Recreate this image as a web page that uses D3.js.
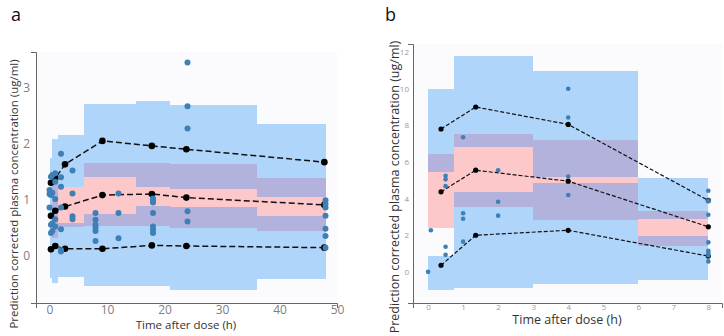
<!DOCTYPE html>
<html>
<head>
<meta charset="utf-8">
<script src="https://cdn.jsdelivr.net/npm/d3@7"></script>
<style>
body { margin: 0; background: #fff; }
text { font-family: "Open Sans", sans-serif; }
</style>
</head>
<body>
<svg width="724" height="336"></svg>
<script>
// ---- panel a data ----
var binsA = [[0, 0.5], [0.5, 1.4], [1.4, 6], [6, 15], [15, 21], [21, 36], [36, 48]];
var upperCiA = [[0.55, 1.74], [0.31, 2.08], [1.23, 2.15], [1.40, 2.71], [1.23, 2.77], [1.19, 2.69], [1.05, 2.35]];
var medianCiA = [null, [0.31, 1.35], [0.51, 1.23], [0.53, 1.65], [0.52, 1.66], [0.49, 1.63], [0.43, 1.38]];
var lowerCiA = [[-0.40, 0.55], [-0.49, 1.35], [-0.39, 0.58], [-0.55, 0.75], [-0.54, 0.88], [-0.61, 0.87], [-0.42, 0.71]];
var timeA = [0.25, 1, 2.7, 9.2, 17.8, 23.8, 47.8];
var p95A = [1.30, 1.38, 1.63, 2.05, 1.96, 1.90, 1.67];
var p50A = [0.71, 0.80, 0.875, 1.08, 1.10, 1.035, 0.905];
var p5A = [0.11, 0.17, 0.12, 0.12, 0.18, 0.17, 0.14];
var obsTimeA = [0, 0, 0, 0.25, 0.25, 0.25, 0.25, 0.25, 0.5, 0.5, 0.5, 0.5,
  1, 1, 1, 1, 1, 2, 2, 2, 2, 2, 2, 2, 4, 4, 4, 4,
  8, 8, 8, 8, 8, 8, 12, 12, 12, 18, 18, 18, 18, 18, 18, 18,
  24, 24, 24, 24, 24, 48, 48, 48, 48, 48, 48, 48];
var obsConcA = [1.17, 1.10, 0.86, 1.41, 1.10, 1.08, 0.55, 0.40, 1.44, 1.12, 0.57, 0.44,
  1.47, 1.32, 1.01, 0.65, 0.52, 1.82, 1.40, 1.23, 0.86, 0.47, 0.10, 0.07, 1.52, 1.11, 0.70, 0.65,
  0.76, 0.64, 0.55, 0.50, 0.44, 0.26, 1.11, 0.76, 0.31, 1.02, 0.98, 0.95, 0.76, 0.52, 0.46, 0.40,
  3.45, 2.67, 2.27, 0.79, 0.61, 0.99, 0.92, 0.86, 0.71, 0.48, 0.35, 0.14];
var xTicksA = [0, 10, 20, 30, 40, 50];
var yTicksA = [0, 1, 2, 3];

// ---- panel b data ----
var binsB = [[0, 0.75], [0.75, 3], [3, 6], [6, 8]];
var upperCiB = [[5.47, 9.96], [6.79, 11.77], [5.2, 10.98], [2.86, 5.1]];
var medianCiB = [[2.39, 6.42], [3.56, 7.52], [2.83, 7.18], [1.4, 3.32]];
var lowerCiB = [[-1.0, 0.84], [-0.86, 4.36], [-0.64, 4.86], [-0.46, 1.97]];
var timeB = [0.37, 1.36, 4, 8];
var p95B = [7.8, 9.0, 8.05, 3.9];
var p50B = [4.37, 5.55, 4.95, 2.46];
var p5B = [0.36, 2.0, 2.27, 0.86];
var obsTimeB = [0, 0.08, 0.5, 0.5, 0.5, 0.5, 0.5, 1, 1, 1, 1, 2, 2, 2,
  4, 4, 4, 4, 8, 8, 8, 8, 8, 8, 8, 8, 8];
var obsConcB = [0.0, 2.27, 5.25, 5.05, 4.68, 1.37, 0.93, 7.35, 3.2, 2.9, 1.65, 5.55, 3.83, 3.07,
  10.0, 8.43, 5.2, 4.2, 4.43, 3.89, 3.85, 3.12, 1.61, 1.15, 1.04, 0.89, 0.57];
var xTicksB = [0, 1, 2, 3, 4, 5, 6, 7, 8];
var yTicksB = [0, 2, 4, 6, 8, 10, 12];

var blue = "#afd5fb", pink = "#fcc8c9", purple = "#b2b2dc";
var svg = d3.select("svg");

function overlap(a, b) {
  if (!a || !b) return null;
  var lo = Math.max(a[0], b[0]), hi = Math.min(a[1], b[1]);
  return hi > lo ? [lo, hi] : null;
}

function panel(c) {
  var x = d3.scaleLinear().domain(c.xDomain).range(c.xRange),
      y = d3.scaleLinear().domain(c.yDomain).range(c.yRange);
  var g = svg.append("g");

  g.append("rect")
    .attr("x", c.xRange[0]).attr("y", c.yRange[1])
    .attr("width", c.xRange[1] - c.xRange[0]).attr("height", c.yRange[0] - c.yRange[1])
    .attr("fill", "#fbfbfe");

  function band(ranges, color) {
    g.append("g").selectAll("rect")
      .data(c.bins.map(function(b, i) { return {b: b, r: ranges[i]}; }).filter(function(d) { return d.r; }))
      .join("rect")
      .attr("x", function(d) { return x(d.b[0]); })
      .attr("width", function(d) { return x(d.b[1]) - x(d.b[0]); })
      .attr("y", function(d) { return y(d.r[1]); })
      .attr("height", function(d) { return y(d.r[0]) - y(d.r[1]); })
      .attr("fill", color)
      .attr("shape-rendering", "crispEdges");
  }
  band(c.upper, blue);
  band(c.lower, blue);
  band(c.median, pink);
  // purple where the median CI overlaps the outer CIs
  band(c.median.map(function(m, i) { return overlap(m, c.upper[i]); }), purple);
  band(c.median.map(function(m, i) { return overlap(m, c.lower[i]); }), purple);

  // simulated percentile lines
  [c.p95, c.p50, c.p5].forEach(function(vals) {
    var pts = c.time.map(function(t, i) { return [t, vals[i]]; });
    g.append("path")
      .attr("d", d3.line().x(function(d) { return x(d[0]); }).y(function(d) { return y(d[1]); })(pts))
      .attr("fill", "none").attr("stroke", "#111")
      .attr("stroke-width", c.lw).attr("stroke-dasharray", c.dash);
    g.append("g").selectAll("circle").data(pts).join("circle")
      .attr("cx", function(d) { return x(d[0]); })
      .attr("cy", function(d) { return y(d[1]); })
      .attr("r", c.rBlack).attr("fill", "#000");
  });

  // observations
  g.append("g").selectAll("circle").data(c.obsT).join("circle")
    .attr("cx", function(d) { return x(d); })
    .attr("cy", function(d, i) { return y(c.obsC[i]); })
    .attr("r", c.rObs).attr("fill", "#3e7fb6");

  var ax = g.append("g").attr("transform", "translate(0," + c.yRange[0] + ")")
    .call(d3.axisBottom(x).tickValues(c.xTicks).tickFormat(d3.format("d"))
      .tickSizeInner(0).tickSizeOuter(5).tickPadding(c.padX));
  var ay = g.append("g").attr("transform", "translate(" + c.xRange[0] + ",0)")
    .call(d3.axisLeft(y).tickValues(c.yTicks).tickFormat(d3.format("d"))
      .tickSizeInner(0).tickSizeOuter(5).tickPadding(c.padY));
  [ax, ay].forEach(function(a) {
    a.select(".domain").attr("stroke", "#666");
    a.selectAll("text").attr("fill", c.tickColor).style("font-size", c.tickSize + "px")
      .style("font-family", "'Open Sans', sans-serif");
  });

  g.append("text")
    .attr("x", c.xTitle[0]).attr("y", c.xTitle[1])
    .attr("text-anchor", "middle").attr("fill", "#333")
    .style("font-size", c.titleSize + "px")
    .text("Time after dose (h)");
  g.append("text")
    .attr("transform", "translate(" + c.yTitle[0] + "," + c.yTitle[1] + ") rotate(-90)")
    .attr("text-anchor", "middle").attr("fill", "#333")
    .style("font-size", c.titleSize + "px")
    .text("Prediction corrected plasma concentration (ug/ml)");
  g.append("text")
    .attr("x", c.label[0]).attr("y", c.label[1])
    .attr("fill", "#111").style("font-size", "18px")
    .text(c.name);
}

panel({
  name: "a", label: [11, 21],
  xDomain: [-2.35, 50], xRange: [36, 337],
  yDomain: [-0.85, 3.64], yRange: [303, 52],
  bins: binsA, upper: upperCiA, median: medianCiA, lower: lowerCiA,
  time: timeA, p95: p95A, p50: p50A, p5: p5A,
  obsT: obsTimeA, obsC: obsConcA,
  xTicks: xTicksA, yTicks: yTicksA,
  lw: 1.5, dash: "6,3", rBlack: 3.3, rObs: 3,
  tickColor: "#808080", tickSize: 12, padX: 2, padY: 6,
  titleSize: 11.5, xTitle: [186, 329], yTitle: [18, 194]
});

panel({
  name: "b", label: [385, 21],
  xDomain: [-0.43, 8.39], xRange: [413, 722],
  yDomain: [-1.7, 12.44], yRange: [303, 44],
  bins: binsB, upper: upperCiB, median: medianCiB, lower: lowerCiB,
  time: timeB, p95: p95B, p50: p50B, p5: p5B,
  obsT: obsTimeB, obsC: obsConcB,
  xTicks: xTicksB, yTicks: yTicksB,
  lw: 1.2, dash: "4,2", rBlack: 2.6, rObs: 2.3,
  tickColor: "#999", tickSize: 8, padX: 1, padY: 4,
  titleSize: 12.5, xTitle: [567, 324], yTitle: [399, 187]
});
</script>
</body>
</html>
